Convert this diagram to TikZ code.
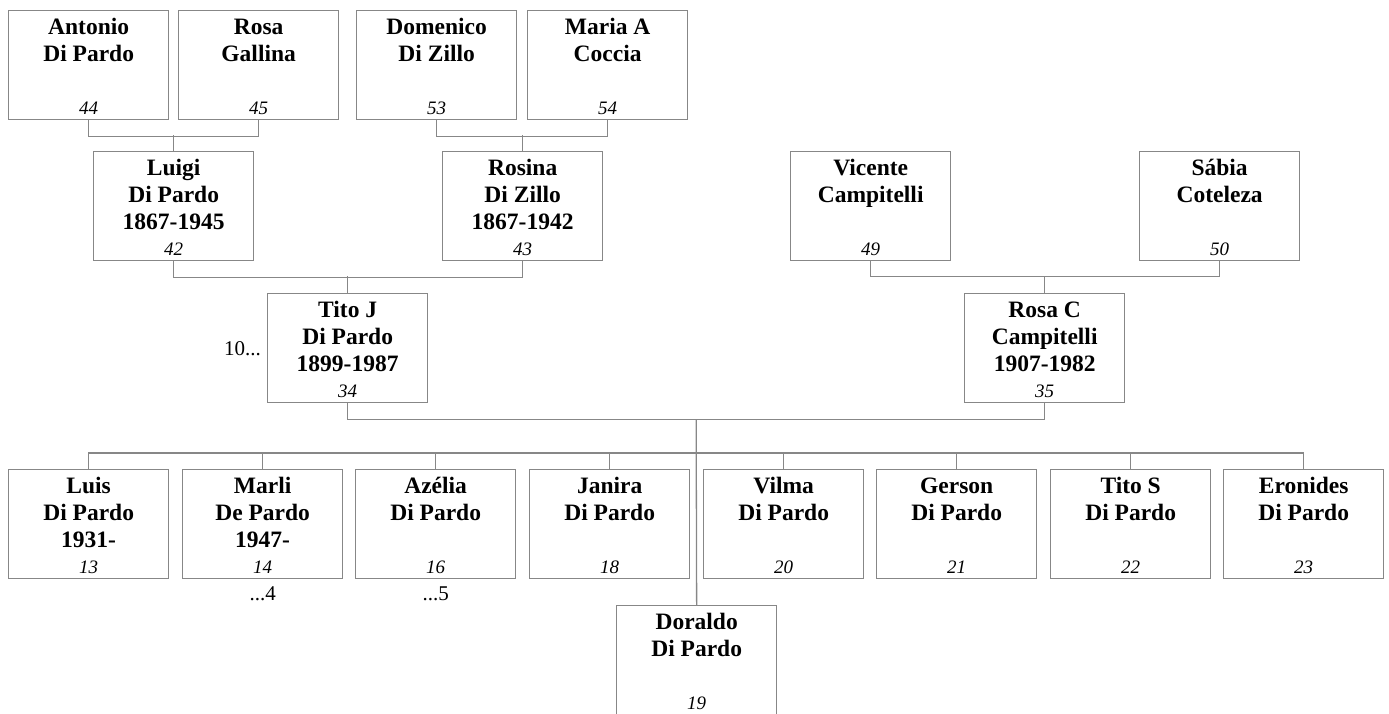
\documentclass[tikz,border=0pt]{standalone}
\usepackage{fontspec}
\setmainfont{Liberation Serif}
\usetikzlibrary{calc}
\definecolor{lc}{RGB}{135,135,135}
\tikzset{
  pbox/.style={draw=lc, line width=1.3pt, minimum width=160pt, minimum height=109pt, inner sep=0pt, anchor=north west},
  nm/.style={font=\bfseries\fontsize{23.5}{27}\selectfont, inner sep=0pt, anchor=base},
  num/.style={font=\itshape\fontsize{19}{22}\selectfont, inner sep=0pt, anchor=base},
  lbl/.style={font=\fontsize{21}{24}\selectfont, inner sep=0pt},
  conn/.style={draw=lc, line width=1.3pt}
}
\newcommand\person[5]{%
  \node[pbox] (#1) at (#2,#3) {};
  \foreach \nameline [count=\k] in {#5}
    \node[nm] at ($(#1.north)+(0,{24+27*(\k-1)})$) {\nameline};
  \node[num] at ($(#1.south)+(0,-6)$) {#4};
}
\begin{document}
\begin{tikzpicture}[x=1pt,y=-1pt]
\useasboundingbox (0,0) rectangle (1389,713);
% grandparents
\person{ant}{8}{10}{44}{Antonio,Di Pardo}
\person{rosa}{178}{10}{45}{Rosa,Gallina}
\person{dom}{356}{10}{53}{Domenico,Di Zillo}
\person{maria}{527}{10}{54}{Maria A,Coccia}
% parents' generation
\person{luigi}{93}{151}{42}{Luigi,Di Pardo,1867-1945}
\person{rosina}{442}{151}{43}{Rosina,Di Zillo,1867-1942}
\person{vic}{790}{151}{49}{Vicente,Campitelli}
\person{sab}{1139}{151}{50}{Sábia,Coteleza}
% couple
\person{tito}{267}{293}{34}{Tito J,Di Pardo,1899-1987}
\person{rosac}{964}{293}{35}{Rosa C,Campitelli,1907-1982}
% children
\person{luis}{8}{469}{13}{Luis,Di Pardo,1931-}
\person{marli}{182}{469}{14}{Marli,De Pardo,1947-}
\person{azelia}{355}{469}{16}{Azélia,Di Pardo}
\person{janira}{529}{469}{18}{Janira,Di Pardo}
\person{vilma}{703}{469}{20}{Vilma,Di Pardo}
\person{gerson}{876}{469}{21}{Gerson,Di Pardo}
\person{titos}{1050}{469}{22}{Tito S,Di Pardo}
\person{eron}{1223}{469}{23}{Eronides,Di Pardo}
\person{doraldo}{616}{605}{19}{Doraldo,Di Pardo}
% labels
\node[lbl, anchor=base east] (ref10) at ($(tito.west)+(-6,7)$) {10...};
\node[lbl, anchor=base] (ref4) at ($(marli.south)+(0,21)$) {...4};
\node[lbl, anchor=base] (ref5) at ($(azelia.south)+(0,21)$) {...5};
% connectors
\draw[conn] (ant.south) -- ++(0,16) -| (rosa.south);
\draw[conn] (luigi.north) -- ++(0,-16);
\draw[conn] (dom.south) -- ++(0,16) -| (maria.south);
\draw[conn] (rosina.north) -- ++(0,-16);
\draw[conn] (luigi.south) -- ++(0,16) -| (rosina.south);
\draw[conn] (tito.north) -- ++(0,-17);
\draw[conn] (vic.south) -- ++(0,15) -| (sab.south);
\draw[conn] (rosac.north) -- ++(0,-17);
\draw[conn] (tito.south) -- ++(0,16) -| (rosac.south);
\coordinate (m) at ($($(tito.south)!0.5!(rosac.south)$)+(0,16)$);
\draw[conn] (m) -- (doraldo.north);
\draw[conn] (luis.north) -- ++(0,-16) -| (eron.north);
\foreach \c in {marli,azelia,janira,vilma,gerson,titos}
  \draw[conn] (\c.north) -- ++(0,-16);
\end{tikzpicture}
\end{document}
